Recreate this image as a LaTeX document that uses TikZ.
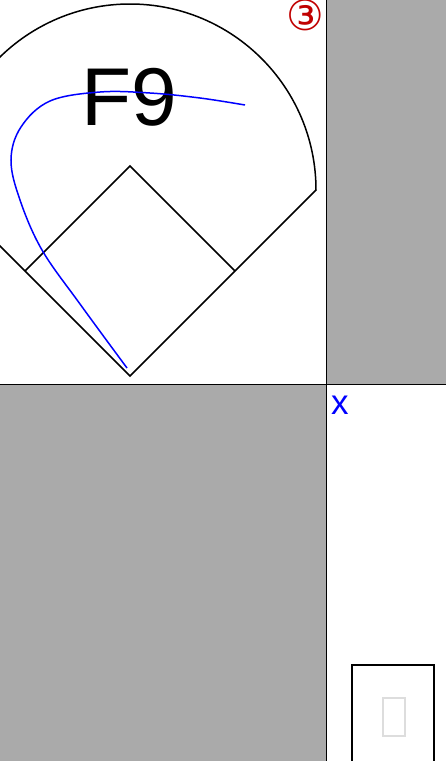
\documentclass[tikz,border=0pt]{standalone}
\usepackage{fontspec}
\setmainfont{Liberation Sans}
\newfontfamily\symfont{DejaVu Sans}
\usetikzlibrary{positioning}
\definecolor{cellgray}{HTML}{AAAAAA}
\definecolor{markred}{HTML}{C00000}
\definecolor{tofugray}{HTML}{DDDDDD}

\begin{document}
\begin{tikzpicture}[
    x=1pt, y=-1pt,
    cell/.style={
        fill=cellgray
    },
    divider/.style={
        draw=black,
        line width=1pt
    },
    fieldline/.style={
        draw=black,
        line width=1.5pt,
        line join=miter
    },
    hitpath/.style={
        draw=blue,
        line width=1.5pt
    },
    bigcode/.style={
        inner sep=0pt,
        font=\fontsize{82}{82}\selectfont
    }
]
\useasboundingbox (0,0) rectangle (446,761);

% Cells
\fill[cell] (326,0) rectangle (446,384);
\fill[cell] (0,384) rectangle (326,761);
\draw[divider] (326,0) -- (326,761);
\draw[divider] (0,384) -- (446,384);

% Field
\begin{scope}
\clip (0,0) rectangle (326,384);
\coordinate (home) at (130,376);
\coordinate (first) at (235,271);
\coordinate (second) at (130,166);
\coordinate (third) at (25,271);
\coordinate (rightpole) at (316,190);
\coordinate (leftpole) at (-56,190);
\draw[fieldline] (leftpole) -- (home) -- (rightpole)
    arc[start angle=0, end angle=-180, radius=186];
\draw[fieldline] (third) -- (second) -- (first);
\end{scope}

% Labels
\node[bigcode, anchor=base] (code) at (129,125) {F9};
\node[inner sep=0pt, text=markred, font=\symfont\fontsize{42}{42}\selectfont] (out) at (305,15) {③};

% Ball path
\draw[hitpath] plot[smooth, tension=0.6] coordinates {
    (127,368) (80,304) (42,250) (20,200) (11,160) (21,127) (50,101)
    (100,92) (150,93) (200,98) (245,105)};

% Note cell
\node[inner sep=0pt, anchor=base west, text=blue, font=\fontsize{35}{35}\selectfont] (mark) at (331,414) {x};
\draw[line width=2pt] (352,770) -- (352,665) -- (434,665) -- (434,770);
\draw[draw=tofugray, line width=1.5pt] (383,698) rectangle (405,736);

\end{tikzpicture}
\end{document}
